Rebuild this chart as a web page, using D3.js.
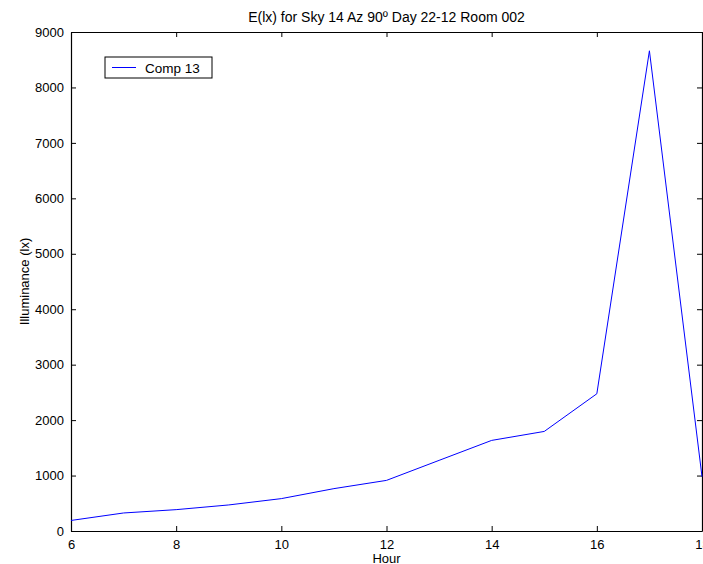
<!DOCTYPE html>
<html>
<head>
<meta charset="utf-8">
<script src="https://cdn.jsdelivr.net/npm/d3@7"></script>
<style>
  body { margin: 0; background: #fff; }
  text { font-family: "Liberation Sans", Arial, sans-serif; fill: #000; }
</style>
</head>
<body>
<div id="chart"></div>
<script>
// data
var hours = [6, 7, 8, 9, 10, 11, 12, 13, 14, 15, 16, 17, 18];
var illuminance = [190, 325, 385, 470, 584, 764, 913, 1274, 1634, 1796, 2475, 8661, 980];
var xTicks = [6, 8, 10, 12, 14, 16, 18];
var yTicks = [0, 1000, 2000, 3000, 4000, 5000, 6000, 7000, 8000, 9000];
var seriesName = "Comp 13";

var svgWidth = 703, svgHeight = 564;
var margin = { top: 32, right: 1, bottom: 33, left: 71 };
var width = svgWidth - margin.left - margin.right;
var height = svgHeight - margin.top - margin.bottom;

var svg = d3.select("#chart").append("svg")
  .attr("width", svgWidth)
  .attr("height", svgHeight);

var g = svg.append("g")
  .attr("transform", `translate(${margin.left}, ${margin.top})`);

var x = d3.scaleLinear().domain([6, 18]).range([0, width]);
var y = d3.scaleLinear().domain([0, 9000]).range([height, 0]);

// axes (ticks point inward, like matlab)
var bottomAxis = d3.axisBottom(x).tickValues(xTicks).tickSize(-5).tickPadding(9).tickSizeOuter(0).tickFormat(d3.format("d"));
var leftAxis = d3.axisLeft(y).tickValues(yTicks).tickSize(-5).tickPadding(7).tickSizeOuter(0).tickFormat(d3.format("d"));
var topAxis = d3.axisTop(x).tickValues(xTicks).tickSize(-5).tickFormat("").tickSizeOuter(0);
var rightAxis = d3.axisRight(y).tickValues(yTicks).tickSize(-5).tickFormat("").tickSizeOuter(0);

g.append("g").attr("transform", `translate(0, ${height})`).call(bottomAxis);
g.append("g").call(leftAxis);
g.append("g").call(topAxis);
g.append("g").attr("transform", `translate(${width}, 0)`).call(rightAxis);

g.selectAll(".domain").attr("stroke", "#000").attr("stroke-width", 1.2);
g.selectAll(".tick line").attr("stroke", "#000");
g.selectAll(".tick text").style("font-size", "13px").attr("fill", "#000");

// the line
var line = d3.line()
  .x((d, i) => x(hours[i]))
  .y(d => y(d));

g.append("path")
  .datum(illuminance)
  .attr("fill", "none")
  .attr("stroke", "#0000ff")
  .attr("stroke-width", 1)
  .attr("d", line);

// legend
var legend = svg.append("g").attr("transform", "translate(105, 57)");
legend.append("rect")
  .attr("width", 107).attr("height", 21)
  .attr("fill", "#fff").attr("stroke", "#000").attr("stroke-width", 1);
legend.append("line")
  .attr("x1", 7).attr("x2", 31).attr("y1", 10.5).attr("y2", 10.5)
  .attr("stroke", "#0000ff");
legend.append("text")
  .attr("x", 40).attr("y", 15.5)
  .style("font-size", "13.5px")
  .text(seriesName);

// title and labels
svg.append("text")
  .attr("x", margin.left + width / 2).attr("y", 22)
  .attr("text-anchor", "middle")
  .style("font-size", "14px")
  .text("E(lx) for Sky 14 Az 90º Day 22-12 Room 002");

svg.append("text")
  .attr("x", margin.left + width / 2).attr("y", 563)
  .attr("text-anchor", "middle")
  .style("font-size", "13px")
  .text("Hour");

svg.append("text")
  .attr("transform", `translate(29, ${margin.top + height / 2}) rotate(-90)`)
  .attr("text-anchor", "middle")
  .style("font-size", "13px")
  .text("Illuminance (lx)");
</script>
</body>
</html>
